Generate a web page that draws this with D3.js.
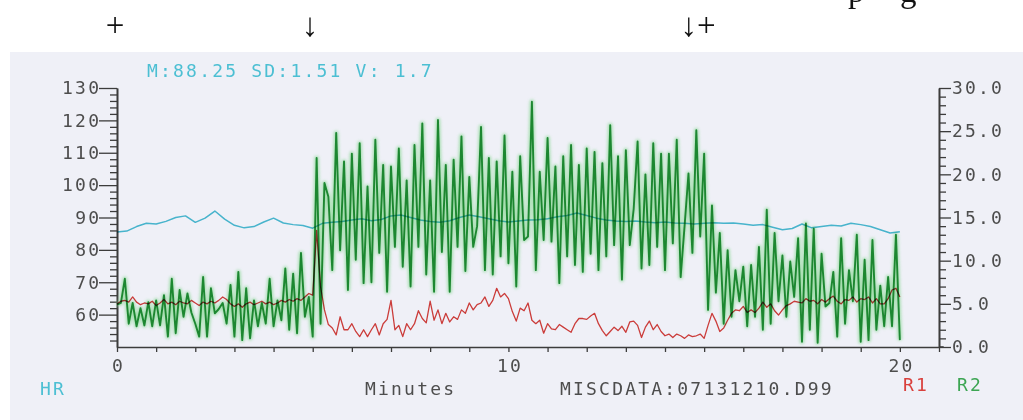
<!DOCTYPE html>
<html>
<head>
<meta charset="utf-8">
<script src="https://cdn.jsdelivr.net/npm/d3@7"></script>
<style>
  html, body { margin: 0; padding: 0; background: #ffffff; }
  svg { display: block; }
</style>
</head>
<body>
<svg id="chart" width="1023" height="420"></svg>
<script>
// Heart rate (bpm), one reading every quarter minute
const hrStepMin = 0.25;
const hrBpm = [
  85.5, 85.8, 87.2, 88.2, 88.0, 88.8, 90.0, 90.5, 88.5, 89.8,
  92.0, 89.5, 87.6, 86.8, 87.2, 88.6, 89.8, 88.3, 87.8, 87.5,
  86.7, 88.2, 88.5, 88.8, 89.2, 89.6, 89.0, 89.4, 90.5, 90.8,
  90.0, 89.2, 88.8, 88.5, 89.0, 90.0, 90.8, 90.2, 89.6, 89.0,
  88.6, 88.9, 89.2, 89.3, 89.6, 90.2, 90.6, 91.4, 90.6, 89.8,
  89.2, 88.9, 88.8, 88.9, 88.6, 88.4, 88.6, 88.3, 88.2, 88.0,
  88.2, 88.4, 88.2, 88.3, 88.0, 87.6, 87.8, 87.0, 86.2, 86.6,
  88.0, 86.8, 87.2, 87.6, 87.4, 88.2, 87.8, 87.2, 86.2, 85.2,
  85.6
];

// Respiration channels, one reading every 0.1 minute
const respStepMin = 0.1;
const r1 = [
  5.0, 5.3, 5.4, 5.2, 5.8, 5.2, 4.9, 5.1, 5.0, 5.3,
  4.8, 5.1, 5.5, 5.0, 5.2, 4.9, 5.3, 5.1, 5.0, 5.4,
  5.1, 4.8, 5.2, 5.0, 5.3, 5.1, 5.4, 5.8, 5.5, 5.0,
  4.7, 5.0, 4.6, 5.0, 5.2, 4.9, 5.1, 5.3, 5.0, 5.2,
  4.9, 5.1, 5.4, 5.2, 5.5, 5.3, 5.6, 5.4, 5.8, 6.2,
  6.0, 13.5, 7.0, 4.3, 2.6, 2.2, 1.4, 3.5, 2.0, 2.0,
  2.7, 1.8, 1.2, 2.0, 1.2, 2.0, 2.7, 1.4, 2.7, 3.2,
  5.4, 2.0, 2.5, 1.2, 2.7, 2.0, 2.7, 4.2, 3.3, 2.8,
  5.3, 3.1, 4.3, 2.7, 3.9, 2.9, 3.5, 3.2, 4.3, 3.9,
  5.1, 4.3, 4.9, 5.1, 5.8, 4.7, 5.4, 6.8, 5.8, 6.2,
  5.6, 4.1, 3.0, 4.5, 4.2, 5.1, 3.1, 2.7, 3.1, 1.6,
  2.7, 2.1, 2.0, 2.6, 2.3, 2.0, 1.7, 2.7, 3.3, 3.3,
  3.2, 3.6, 3.9, 2.7, 1.9, 1.3, 1.8, 2.3, 1.9, 2.4,
  1.7, 2.9, 3.0, 2.5, 1.1, 2.3, 3.0, 2.0, 2.6, 1.8,
  1.3, 1.5, 1.1, 1.5, 1.3, 1.0, 1.4, 1.2, 1.3, 1.5,
  1.0, 2.5, 3.9, 3.0, 1.8, 2.2, 3.1, 3.9, 4.3, 4.2,
  4.7, 4.0, 4.3, 4.0, 4.5, 5.2, 4.6, 5.0, 4.2, 3.7,
  4.3, 4.8, 5.0, 5.3, 5.2, 5.1, 5.6, 5.3, 5.4, 5.0,
  5.5, 5.2, 5.6, 5.9, 5.3, 5.0, 5.5, 5.4, 5.8, 5.2,
  5.6, 5.5, 5.8, 5.1, 5.6, 5.0, 5.0, 5.6, 6.6, 6.8,
  5.8
];
const r2 = [
  4.9, 5.1, 7.9, 2.7, 5.1, 2.4, 4.5, 2.5, 5.2, 2.4,
  5.4, 2.5, 6.0, 1.2, 7.9, 1.6, 6.6, 3.5, 6.2, 4.0,
  2.7, 1.2, 8.1, 1.2, 6.8, 3.9, 4.4, 5.1, 2.7, 7.2,
  1.2, 8.7, 0.8, 6.8, 1.0, 5.4, 2.4, 5.1, 2.7, 7.9,
  2.4, 5.4, 3.1, 9.1, 2.0, 8.5, 1.6, 10.9, 3.5, 5.8,
  1.2, 21.9, 2.7, 19.0, 17.4, 8.9, 24.8, 11.2, 21.5, 6.6,
  22.4, 10.1, 23.6, 7.4, 18.6, 7.5, 24.0, 10.9, 21.1, 6.4,
  20.9, 11.6, 23.0, 9.3, 19.3, 7.0, 23.4, 11.6, 25.9, 8.4,
  19.3, 6.4, 26.3, 11.0, 21.1, 6.4, 21.7, 11.6, 24.4, 8.8,
  19.7, 11.6, 14.0, 25.5, 8.9, 21.9, 8.4, 21.5, 10.5, 24.5,
  9.7, 20.3, 7.0, 22.1, 12.4, 12.8, 28.4, 8.9, 20.3, 12.4,
  24.2, 12.2, 20.9, 7.4, 22.1, 10.5, 23.4, 9.5, 21.1, 8.7,
  23.0, 10.8, 22.6, 8.9, 21.3, 10.5, 25.7, 11.8, 22.1, 7.8,
  22.8, 11.8, 16.0, 23.8, 9.1, 20.0, 9.5, 23.6, 11.6, 22.4,
  8.9, 22.4, 12.0, 24.0, 8.1, 14.0, 20.1, 10.9, 25.1, 12.8,
  22.4, 4.3, 16.4, 6.3, 13.2, 2.7, 11.2, 3.5, 8.9, 5.3,
  9.3, 2.4, 9.5, 3.5, 11.6, 2.0, 15.9, 2.7, 13.2, 5.3,
  10.6, 3.5, 9.9, 5.8, 12.6, 0.6, 14.3, 2.0, 13.7, 0.5,
  10.8, 4.7, 5.1, 8.7, 1.2, 12.6, 2.7, 8.9, 5.3, 13.0,
  0.6, 10.1, 0.8, 12.4, 2.0, 7.1, 2.4, 8.1, 2.4, 13.0,
  0.8
];

// Axis labelling
const hrMajorTicks = [60, 70, 80, 90, 100, 110, 120, 130];
const respMajorTicks = [0, 5, 10, 15, 20, 25, 30];
const minuteMajorTicks = [0, 10, 20];
const statsText = "M:88.25 SD:1.51 V: 1.7";
const fileText = "MISCDATA:07131210.D99";
const xTitle = "Minutes";
const seriesNames = { hr: "HR", r1: "R1", r2: "R2" };
const markers = [
  { text: "+", x: 115 },
  { text: "\u2193", x: 310 },
  { text: "\u2193+", x: 698 }
];
// Descenders of the line of typing above, cut off by the sheet edge
const cutLetters = [
  { text: "p", x: 848 },
  { text: "g", x: 900 }
];

const C = {
  panel: "#eff0f7",
  axis: "#3c3c3c",
  label: "#4d4d4d",
  hr: "#4cbfd3",
  r1: "#d9403c",
  r2: "#2a9a44",
  r2haze: "#94da9f"
};
const monoFont = "'DejaVu Sans Mono', monospace";
const serifFont = "'Liberation Serif', 'Times New Roman', serif";
const fontSize = 18;
const spacing = 2.2;

const svg = d3.select("#chart");

// Sheet background and instrument panel
svg.append("rect").attr("x", 0).attr("y", 0).attr("width", 1023).attr("height", 420).attr("fill", "#ffffff");
svg.append("rect").attr("x", 10).attr("y", 52).attr("width", 1013).attr("height", 368).attr("fill", C.panel);

// Annotation marks typed above the trace
svg.selectAll("text.marker").data(markers).join("text")
  .attr("class", "marker")
  .attr("x", d => d.x).attr("y", 36)
  .attr("text-anchor", "middle")
  .attr("font-family", serifFont)
  .attr("font-size", 33)
  .attr("fill", "#111")
  .text(d => d.text);
svg.selectAll("text.cut").data(cutLetters).join("text")
  .attr("class", "cut")
  .attr("x", d => d.x).attr("y", 2)
  .attr("font-family", serifFont)
  .attr("font-size", 33)
  .attr("fill", "#111")
  .text(d => d.text);

// Scales
const x = d3.scaleLinear().domain([0, 21]).range([117, 939]);
const yHR = d3.scaleLinear().domain([50, 130]).range([347, 88]);
const yR = d3.scaleLinear().domain([0, 30]).range([347, 88]);

const defs = svg.append("defs");
defs.append("filter").attr("id", "soft").attr("x", "-5%").attr("y", "-5%").attr("width", "110%").attr("height", "110%")
  .append("feGaussianBlur").attr("stdDeviation", 1.6);

function styleAxis(g) {
  g.selectAll(".domain").attr("stroke", C.axis).attr("stroke-width", 1.6);
  g.selectAll(".tick line").attr("stroke", C.axis).attr("stroke-width", 1.3);
  g.selectAll(".tick text")
    .attr("fill", C.label)
    .attr("font-family", monoFont)
    .attr("font-size", fontSize)
    .attr("letter-spacing", spacing);
}

// Left axis (HR): minor ticks every 2 bpm, labelled majors every 10
const minorHR = d3.range(52, 130, 2).filter(v => v % 10 !== 0);
svg.append("g").attr("transform", `translate(${x(0)},0)`)
  .call(d3.axisLeft(yHR).tickValues(minorHR).tickSize(7).tickSizeOuter(0).tickFormat(""))
  .call(styleAxis);
svg.append("g").attr("transform", `translate(${x(0)},0)`)
  .call(d3.axisLeft(yHR).tickValues(hrMajorTicks).tickSize(18).tickPadding(0).tickSizeOuter(0).tickFormat(d3.format("d")))
  .call(styleAxis)
  .call(g => g.selectAll(".tick text").attr("dx", spacing));

// Right axis (R1/R2): minor ticks every 1, labelled majors every 5
const minorR = d3.range(1, 30, 1).filter(v => v % 5 !== 0);
svg.append("g").attr("transform", `translate(${x(21)},0)`)
  .call(d3.axisRight(yR).tickValues(minorR).tickSize(7).tickSizeOuter(0).tickFormat(""))
  .call(styleAxis);
svg.append("g").attr("transform", `translate(${x(21)},0)`)
  .call(d3.axisRight(yR).tickValues(respMajorTicks).tickSize(12).tickPadding(1).tickSizeOuter(0).tickFormat(d3.format(".1f")))
  .call(styleAxis);

// Bottom axis (minutes), running a little past the right axis
svg.append("g").attr("transform", `translate(0,${yHR(50)})`)
  .call(d3.axisBottom(x).tickValues(d3.range(0, 22, 1)).tickSize(5).tickSizeOuter(0)
    .tickFormat(d => minuteMajorTicks.includes(d) ? d : ""))
  .call(styleAxis)
  .call(g => g.selectAll(".tick text").attr("dy", "0.95em").attr("dx", spacing / 2));
svg.append("line")
  .attr("x1", x(21)).attr("x2", x(21.12)).attr("y1", yHR(50)).attr("y2", yHR(50))
  .attr("stroke", C.axis).attr("stroke-width", 1.6);

// Traces
const r2Line = d3.line().x((d, i) => x(i * respStepMin)).y(d => yR(d));
const r1Line = d3.line().x((d, i) => x(i * respStepMin)).y(d => yR(d));
const hrLine = d3.line().x((d, i) => x(i * hrStepMin)).y(d => yHR(d));

svg.append("path").datum(r2).attr("d", r2Line)
  .attr("fill", "none").attr("stroke", C.r2haze).attr("stroke-width", 4.5)
  .attr("stroke-linejoin", "round").attr("opacity", 0.8).attr("filter", "url(#soft)");
svg.append("path").datum(r2).attr("d", r2Line)
  .attr("fill", "none").attr("stroke", C.r2).attr("stroke-width", 1.9)
  .attr("stroke-linejoin", "round").style("mix-blend-mode", "multiply");
svg.append("path").datum(hrBpm).attr("d", hrLine)
  .attr("fill", "none").attr("stroke", C.hr).attr("stroke-width", 1.5)
  .attr("stroke-linejoin", "round").style("mix-blend-mode", "multiply");
svg.append("path").datum(r1).attr("d", r1Line)
  .attr("fill", "none").attr("stroke", C.r1).attr("stroke-width", 1.3)
  .attr("stroke-linejoin", "round").style("mix-blend-mode", "multiply");

// Header statistics and footer labels
function label(txt, xPos, yPos, color) {
  svg.append("text").attr("x", xPos).attr("y", yPos)
    .attr("font-family", monoFont).attr("font-size", fontSize).attr("letter-spacing", spacing)
    .attr("fill", color).text(txt);
}
label(statsText, 147, 77, C.hr);
label(seriesNames.hr, 40, 395, C.hr);
label(xTitle, 365, 395, C.label);
label(fileText, 560, 395, C.label);
label(seriesNames.r1, 903, 391, C.r1);
label(seriesNames.r2, 957, 391, "#3ca553");
</script>
</body>
</html>
